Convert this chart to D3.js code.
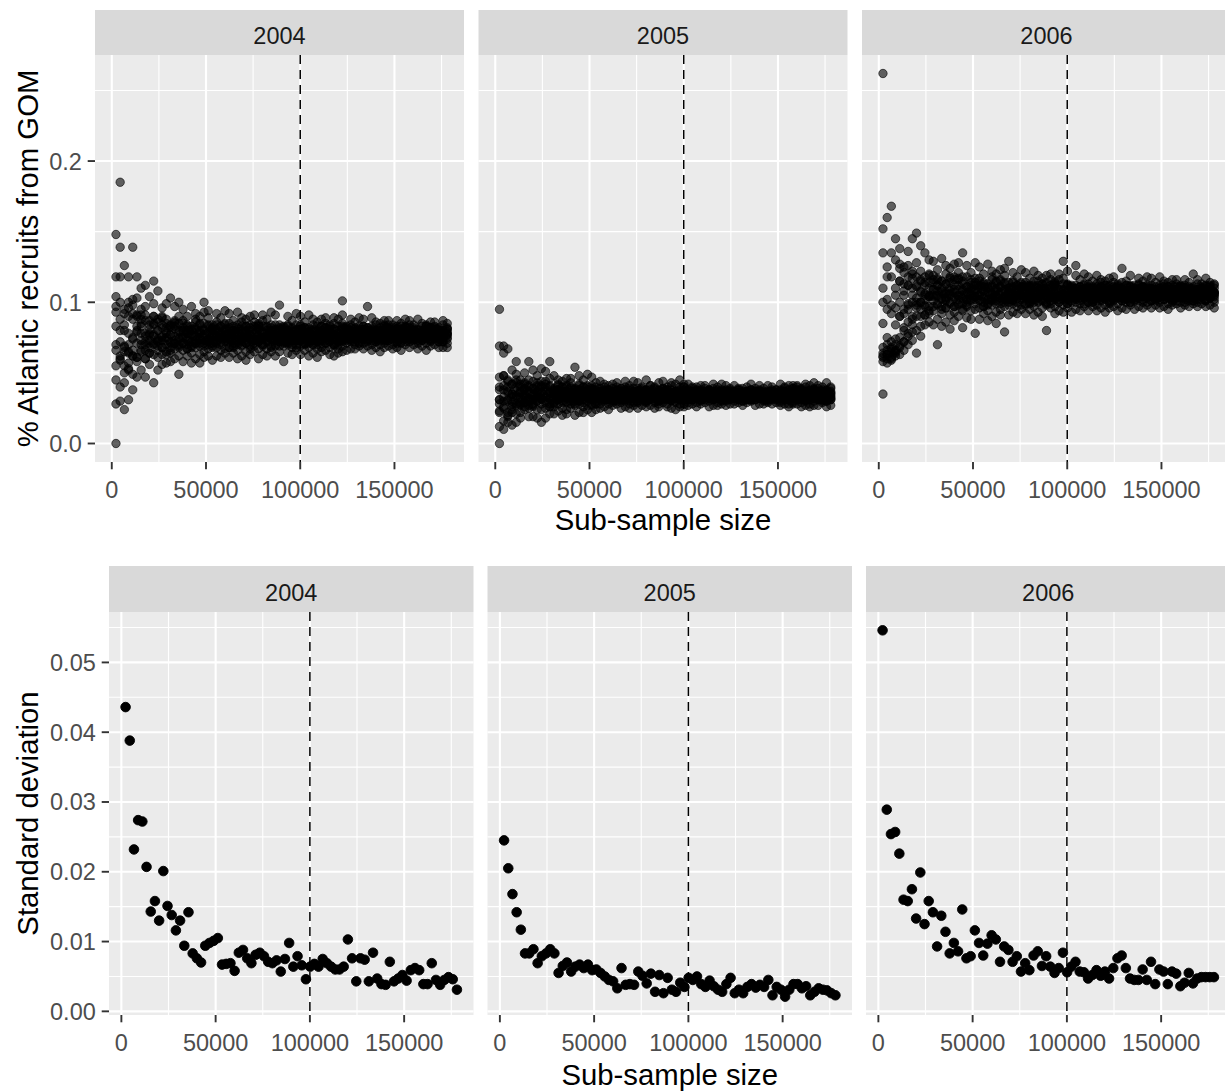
<!DOCTYPE html>
<html>
<head>
<meta charset="utf-8">
<script src="https://cdn.jsdelivr.net/npm/d3@7"></script>
<style>
  html, body { margin: 0; padding: 0; background: #fff; }
  svg { display: block; font-family: "Liberation Sans", Arial, Helvetica, sans-serif; }
</style>
</head>
<body>
<svg id="chart" width="1225" height="1091"></svg>
<script>
// ---------------- data ----------------
const years = ["2004", "2005", "2006"];

// sub-sample sizes used for the bootstrap draws
const sampleSizes = [
  2225, 4450, 6675, 8900, 11125, 13350, 15575, 17800, 20025, 22250,
  24475, 26700, 28925, 31150, 33375, 35600, 37825, 40050, 42275, 44500,
  46725, 48950, 51175, 53400, 55625, 57850, 60075, 62300, 64525, 66750,
  68975, 71200, 73425, 75650, 77875, 80100, 82325, 84550, 86775, 89000,
  91225, 93450, 95675, 97900, 100125, 102350, 104575, 106800, 109025, 111250,
  113475, 115700, 117925, 120150, 122375, 124600, 126825, 129050, 131275, 133500,
  135725, 137950, 140175, 142400, 144625, 146850, 149075, 151300, 153525, 155750,
  157975, 160200, 162425, 164650, 166875, 169100, 171325, 173550, 175775, 178000
];
// the upper row's size axis also carries the empty size-0 draw
const emptyDrawSize = 0;

// proportion of Atlantic recruits from GOM, per mille; first batch of 8 draws per size
const gom2004 = [
  [0,148,118,104,93,66,45,28],[185,139,80,62,59,118,40,30],[126,69,92,84,65,55,24,43],[118,64,57,100,70,96,52,31],
  [139,88,66,62,98,74,49,38],[118,83,90,61,79,58,47,103],[95,78,85,66,70,110,52,88],[112,72,60,76,66,97,47,91],
  [104,81,68,73,64,56,78,87],[115,99,43,84,71,63,77,90],[108,72,86,80,69,61,52,74],[96,90,63,76,68,84,56,73],
  [99,79,82,75,70,63,57,88],[103,82,84,77,71,64,58,68],[97,73,81,67,71,86,60,85],[100,90,70,75,69,62,49,80],
  [58,66,71,75,79,82,87,95],[84,62,78,90,70,74,80,67],[72,97,64,77,83,69,57,80],[88,73,60,81,68,92,76,71],
  [63,80,85,57,78,71,90,75],[77,69,93,65,80,73,61,100],[70,89,74,84,62,94,72,79],[80,59,78,71,84,68,82,75],
  [68,76,92,73,62,80,86,71],[89,66,75,79,83,61,72,77],[74,81,64,85,73,77,94,67],[61,68,72,75,78,81,85,92],
  [83,64,77,87,71,74,80,68],[73,93,66,77,82,70,60,79],[86,74,62,80,69,89,76,72],[65,79,83,59,77,71,88,75],
  [77,70,90,67,80,74,63,84],[71,86,74,83,65,91,73,78],[81,60,77,72,85,67,83,74],[69,75,91,74,63,79,87,70],
  [88,67,76,78,82,62,73,76],[75,80,65,84,72,78,93,68],[62,69,73,76,77,80,84,91],[82,65,76,98,72,75,79,69],
  [80,58,78,72,83,69,81,75],[70,76,90,73,64,80,84,71],[87,68,75,79,82,63,73,77],[75,81,66,84,73,77,92,68],
  [63,69,73,75,78,81,84,90],[82,66,77,86,71,75,79,70],[73,91,68,77,81,71,62,79],[84,74,64,80,70,88,76,73],
  [67,79,83,61,77,72,86,75],[77,71,88,68,79,74,65,83],[71,85,75,82,66,89,73,78],[81,63,77,73,84,68,80,76],
  [69,77,89,74,62,81,85,70],[88,67,76,78,83,64,72,76],[74,82,65,85,72,101,91,69],[80,66,79,74,83,71,81,77],
  [72,77,88,75,67,80,84,73],[86,70,77,79,82,67,74,78],[76,81,69,83,75,78,89,71],[67,71,74,77,79,81,83,88],
  [82,69,78,97,73,76,80,72],[75,89,70,78,81,73,66,79],[84,75,68,80,72,86,77,74],[70,79,82,65,78,74,85,77],
  [78,73,87,71,80,75,68,83],[73,84,76,82,69,87,75,79],[81,67,78,75,84,70,80,76],[71,78,87,74,68,81,83,72],
  [85,71,76,80,83,66,75,77],[77,80,70,82,74,79,88,72],[68,72,75,76,78,80,84,87],[81,70,77,84,74,77,79,73],
  [76,88,71,77,80,74,67,78],[83,76,69,79,73,85,78,75],[71,78,83,66,77,75,84,76],[77,74,86,72,81,76,69,82],
  [74,83,77,81,70,86,76,78],[80,68,79,74,82,72,81,77],[72,76,87,75,68,79,84,74],[85,71,78,79,81,68,75,77]
];
const gom2005 = [
  [95,0,69,22,40,31,28,12],[69,38,48,25,30,64,16,10],[67,31,44,36,19,22,15,40],[52,26,42,35,30,24,33,13],
  [58,33,40,28,21,45,15,37],[40,45,29,33,28,22,18,36],[50,34,38,26,29,24,42,35],[58,30,37,32,27,45,19,40],
  [26,34,52,31,19,39,44,28],[48,24,33,37,41,18,30,36],[32,40,15,44,31,36,53,24],[18,25,30,33,36,40,44,51],
  [41,21,36,46,28,32,58,26],[32,48,26,35,39,29,21,37],[42,32,23,38,28,45,34,31],[25,37,40,20,35,30,44,33],
  [35,29,46,21,37,32,24,41],[30,43,33,40,25,46,32,36],[38,20,36,30,54,27,39,33],[28,34,48,32,22,38,42,30],
  [45,26,33,37,40,22,31,35],[33,38,24,41,32,35,49,27],[22,27,31,33,36,38,41,47],[40,24,35,43,30,33,37,28],
  [32,44,28,34,37,31,25,36],[40,33,26,37,30,42,34,32],[28,36,38,24,35,31,41,34],[34,31,42,29,36,33,27,39],
  [31,40,33,38,28,43,32,35],[37,25,35,31,39,29,37,34],[30,34,44,32,26,37,40,31],[41,28,34,36,38,25,32,35],
  [33,37,27,39,32,35,44,29],[25,29,32,34,35,37,39,43],[38,27,35,40,31,33,36,30],[33,45,29,35,38,30,26,36],
  [41,34,27,36,31,41,33,32],[29,35,39,25,34,32,40,35],[35,30,43,28,37,34,26,38],[32,39,34,37,29,44,31,36],
  [36,26,34,32,40,28,38,33],[31,35,43,33,25,36,41,30],[42,29,33,37,37,24,33,34],[32,38,26,40,31,36,45,28],
  [26,28,33,34,36,36,40,42],[33,42,29,34,37,31,27,35],[39,33,28,36,31,40,34,32],[29,35,37,26,35,32,40,34],
  [34,31,41,30,36,33,28,38],[32,39,33,37,29,41,33,35],[36,26,35,32,38,30,37,34],[31,34,42,33,27,36,39,32],
  [40,29,34,35,37,27,32,35],[33,37,28,38,33,35,42,30],[27,30,32,34,35,37,38,41],[37,28,35,39,32,33,36,31],
  [34,41,30,35,36,32,28,34],[38,34,29,35,32,39,33,31],[30,36,36,27,34,33,39,35],[35,32,40,31,37,34,29,37],
  [31,38,34,36,30,42,32,34],[37,27,34,33,39,31,36,35],[32,35,41,32,28,37,38,33],[39,30,35,34,36,28,33,36],
  [34,36,29,37,32,34,41,31],[28,31,33,35,34,36,37,40],[36,29,34,38,33,34,35,32],[33,42,29,35,37,30,27,36],
  [40,32,28,37,31,39,35,33],[28,34,38,26,36,31,41,33],[35,30,41,29,37,32,28,39],[31,40,32,38,28,41,34,36],
  [37,26,36,31,39,29,38,33],[30,35,42,32,27,37,40,31],[41,28,35,34,38,26,33,36],[32,38,27,39,34,34,43,30],
  [27,31,31,35,36,36,39,41],[38,29,34,40,31,34,37,30],[32,43,30,33,38,31,26,35],[39,33,27,37,32,40,35,31]
];
const gom2006 = [
  [262,35,152,58,100,85,64,61],[160,63,118,95,75,66,60,57],[168,135,68,92,72,65,61,59],[145,110,65,96,84,70,64,62],
  [138,124,90,100,115,75,68,63],[105,125,113,82,92,80,72,66],[136,98,112,118,95,86,76,70],[145,90,117,105,120,88,79,73],
  [149,128,100,112,98,90,80,64],[140,108,116,95,100,122,83,76],[135,97,114,106,118,91,84,102],[130,110,94,105,120,92,86,104],
  [84,94,101,105,109,114,119,129],[116,88,108,123,98,104,112,70],[102,131,92,107,115,97,83,110],[120,103,86,113,96,126,106,101],
  [91,110,117,81,108,99,124,105],[107,97,127,93,112,103,87,118],[98,121,104,116,90,128,102,109],[113,82,109,99,118,94,135,105],
  [97,106,126,102,89,111,118,100],[121,94,105,110,114,88,102,108],[104,112,78,117,102,108,128,95],[88,96,102,105,109,112,117,125],
  [114,92,108,120,100,104,111,97],[102,127,94,107,113,99,87,110],[118,103,90,111,98,122,106,102],[93,110,115,85,108,101,120,105],
  [107,99,123,95,111,103,91,116],[100,119,104,114,79,124,102,109],[110,91,108,102,114,98,129,105],[99,106,121,103,93,110,115,101],
  [118,97,105,109,112,92,103,107],[105,111,95,114,103,107,123,98],[92,98,103,105,108,111,114,121],[112,95,107,117,101,105,110,99],
  [103,122,97,107,112,100,91,109],[115,104,93,110,100,119,106,103],[96,109,113,90,107,102,117,105],[107,100,119,98,110,104,80,114],
  [101,116,105,112,96,120,103,108],[111,92,107,103,115,97,113,104],[100,105,120,104,94,109,116,102],[117,98,106,108,129,93,104,106],
  [104,112,96,113,102,108,122,99],[110,93,108,103,112,100,111,105],[100,106,119,104,95,110,126,102],[116,99,105,108,111,94,103,107],
  [105,110,97,113,104,107,120,99],[94,100,103,105,108,110,113,118],[111,97,107,115,102,105,109,100],[104,119,98,107,111,101,94,108],
  [114,104,96,110,101,116,106,103],[98,108,112,93,107,103,115,105],[107,101,117,99,109,104,96,112],[102,114,105,111,97,118,104,108],
  [109,94,107,104,113,99,110,106],[101,105,124,103,96,109,114,103],[115,100,106,107,112,95,102,108],[104,111,98,112,103,108,119,100],
  [109,95,108,103,112,101,110,106],[101,106,117,104,97,109,113,103],[115,100,106,108,111,96,104,107],[105,110,98,112,104,107,118,100],
  [96,101,104,106,108,110,112,117],[111,98,107,114,103,105,109,101],[104,118,100,107,110,102,96,108],[113,105,97,109,102,115,106,104],
  [99,108,111,95,107,103,114,106],[107,102,116,100,109,105,98,112],[103,113,105,111,99,116,104,108],[110,96,107,104,111,100,109,105],
  [100,107,116,103,98,110,112,104],[114,101,105,109,110,97,105,106],[106,109,99,111,103,108,120,101],[97,100,105,105,109,109,113,116],
  [110,99,106,113,104,104,110,102],[105,117,101,106,111,101,97,107],[112,106,98,108,103,114,107,103],[100,107,112,96,106,104,113,107]
];

// second batch of 4 draws per size, per mille
const gom2004b = [
  [55,83,70,97],[88,60,100,72],[68,95,50,80],[78,53,90,65],[92,75,62,102],[61,80,71,91],[83,65,91,73],[70,87,60,78],
  [77,64,84,71],[85,76,70,90],[66,80,73,88],[82,68,89,75],[73,85,65,78],[77,66,83,72],[83,76,71,87],[68,79,74,85],
  [80,71,85,75],[73,83,67,78],[77,68,81,72],[82,76,71,86],[69,79,74,84],[81,71,85,75],[73,83,67,78],[77,69,81,73],
  [81,76,72,84],[70,78,75,83],[80,72,84,75],[74,82,68,78],[77,69,80,73],[81,76,72,84],[70,78,74,83],[80,71,83,75],
  [74,82,69,77],[77,69,81,73],[81,76,72,84],[70,78,75,83],[80,72,83,75],[74,82,69,78],[77,70,81,73],[81,76,72,84],
  [71,78,75,82],[79,72,83,75],[74,81,70,77],[77,70,80,73],[81,76,73,83],[71,78,75,82],[79,72,82,75],[74,81,70,77],
  [77,70,80,73],[80,76,73,83],[71,78,75,82],[79,72,83,75],[74,81,70,77],[77,70,80,73],[81,76,73,83],[73,79,76,82],
  [80,74,82,76],[75,81,72,78],[78,72,80,75],[81,77,74,83],[74,79,77,82],[80,75,83,76],[75,80,72,79],[78,73,80,76],
  [81,77,74,84],[73,78,76,81],[79,74,82,77],[76,81,72,78],[78,72,81,75],[82,77,74,83],[74,79,76,82],[80,74,82,76],
  [75,81,73,78],[78,73,80,75],[81,77,74,83],[73,79,77,82],[80,75,82,76],[75,80,72,78],[78,72,80,76],[81,77,74,82]
];
const gom2005b = [
  [23,38,31,47],[41,26,48,33],[30,45,20,37],[35,22,42,28],[43,34,27,49],[27,37,32,42],[39,29,43,33],[31,41,25,36],
  [35,27,39,31],[40,34,30,43],[28,36,32,41],[38,29,42,33],[32,40,26,36],[35,28,38,32],[38,34,31,41],[29,36,33,40],
  [37,30,40,33],[32,39,28,35],[35,28,38,32],[38,34,31,41],[29,36,33,40],[37,30,40,33],[32,39,28,35],[35,28,38,32],
  [37,34,32,39],[31,35,33,38],[36,31,38,34],[33,37,30,35],[34,30,37,32],[37,34,31,39],[31,36,33,38],[36,31,39,34],
  [33,37,30,36],[35,30,37,32],[37,33,32,39],[30,35,33,38],[36,32,38,34],[33,38,30,35],[34,30,36,32],[38,34,32,39],
  [31,35,34,38],[36,31,38,33],[32,37,30,35],[34,31,37,32],[37,34,31,40],[36,34,32,38],[31,35,33,37],[36,32,38,34],
  [33,37,31,35],[34,31,36,33],[37,34,32,38],[31,35,34,37],[35,32,38,34],[33,36,31,35],[34,31,37,33],[36,33,32,38],
  [32,35,33,37],[36,31,38,34],[33,37,30,35],[35,31,36,33],[36,34,31,38],[31,36,33,37],[36,32,37,34],[32,37,31,35],
  [34,30,36,33],[37,34,32,38],[31,35,33,38],[35,32,38,34],[33,37,31,36],[34,31,36,32],[36,34,32,39],[31,35,34,37],
  [36,32,38,34],[33,36,31,35],[34,31,37,33],[36,33,32,38],[32,35,33,37],[36,31,37,34],[33,37,30,35],[35,31,36,33]
];
const gom2006b = [
  [62,68,110,135],[63,70,102,125],[60,67,98,118],[66,74,105,130],[69,90,115,127],[72,95,108,121],[78,99,112,126],[84,100,110,122],
  [111,96,118,103],[100,115,90,107],[105,91,112,98],[114,104,97,119],[97,109,104,116],[112,99,117,105],[103,115,95,108],[107,96,113,102],
  [114,106,100,118],[97,109,104,116],[112,99,117,105],[103,115,95,108],[107,98,111,102],[112,106,101,116],[99,109,104,114],[111,101,115,105],
  [103,113,97,108],[107,98,111,102],[112,106,101,116],[99,109,104,114],[111,101,115,105],[103,113,97,108],[107,100,110,103],[111,106,102,114],
  [100,108,105,112],[110,102,113,105],[104,112,99,107],[108,100,111,103],[111,105,102,115],[101,108,104,112],[110,101,113,106],[104,113,99,107],
  [107,99,110,104],[112,106,102,114],[100,109,105,112],[109,102,113,105],[103,112,99,108],[107,101,109,104],[110,106,103,112],[101,108,105,111],
  [109,103,112,105],[104,111,100,107],[107,100,110,104],[110,105,103,113],[102,108,105,111],[109,102,112,106],[104,111,100,108],[106,101,109,103],
  [111,106,103,112],[101,109,105,110],[108,103,112,105],[105,111,100,107],[106,102,109,104],[110,106,104,112],[102,108,105,111],[109,103,111,106],
  [105,110,101,107],[107,102,109,104],[110,105,104,112],[102,108,106,111],[109,103,111,105],[104,110,101,107],[106,101,109,104],[111,106,103,112],
  [102,109,105,110],[108,103,111,106],[105,110,101,108],[106,102,108,104],[110,106,104,111],[102,108,105,112],[109,104,111,106],[105,110,102,107]
];

// standard deviation across draws, per mille
const sd2004 = [
  43.6,38.8,23.2,27.4,27.2,20.7,14.3,15.8,13.0,20.1, 15.1,13.8,11.6,13.0,9.4,14.2,8.3,7.6,7.0,9.4,
  9.8,10.1,10.5,6.7,6.8,6.9,5.8,8.4,8.8,7.6, 6.9,8.1,8.4,7.9,7.1,6.9,7.3,5.7,7.5,9.8,
  6.4,7.9,6.6,4.6,6.4,6.8,6.4,7.5,6.9,6.4, 6.0,6.0,6.4,10.3,7.6,4.3,7.6,7.4,4.3,8.4,
  4.7,3.9,3.8,7.1,4.3,4.7,5.2,4.4,5.9,6.2, 5.9,3.9,3.9,6.9,4.5,3.8,4.5,4.9,4.6,3.1
];
const sd2005 = [
  24.5,20.5,16.8,14.2,11.7,8.3,8.3,8.9,6.9,7.9, 8.3,8.9,8.3,5.5,6.5,7.0,5.7,6.4,6.7,6.2,
  6.7,5.9,6.0,5.5,5.0,4.5,4.3,3.3,6.2,3.8, 3.9,3.8,5.7,5.1,4.0,5.4,2.8,5.2,2.6,4.8,
  3.1,2.8,4.1,3.5,4.8,4.5,5.0,3.9,3.5,4.4, 3.6,3.1,2.8,3.9,4.8,2.6,3.1,2.6,3.5,3.9,
  3.4,3.8,3.5,4.5,2.3,3.5,3.1,2.1,3.1,3.9, 3.9,3.3,3.6,2.3,2.8,3.3,3.1,3.0,2.6,2.3
];
const sd2006 = [
  54.6,28.9,25.4,25.7,22.6,16.0,15.8,17.5,13.3,19.9, 12.5,15.8,14.2,9.3,13.7,11.4,8.3,9.8,8.6,14.6,
  7.6,7.9,11.6,9.8,8.0,9.7,10.9,10.3,7.1,9.3, 8.8,7.1,7.9,5.7,6.9,5.9,8.0,8.6,6.5,7.9,
  6.4,5.5,6.2,8.4,5.6,6.4,7.1,5.7,5.6,4.7, 5.2,5.9,5.1,5.7,4.7,6.2,7.6,8.0,6.2,4.7,
  4.5,4.5,6.0,4.5,7.1,3.9,6.0,5.7,3.9,5.7, 5.4,3.6,4.1,5.5,4.0,4.7,4.9,4.9,4.9,4.9
];

// axis ticks
const xTicks = [0, 50000, 100000, 150000];
const xMinorTicks = [25000, 75000, 125000, 175000];
const yTicksTop = [0, 0.1, 0.2];
const yMinorTop = [0.05, 0.15, 0.25];
const yTicksBottom = [0, 0.01, 0.02, 0.03, 0.04, 0.05];
const yMinorBottom = [0.005, 0.015, 0.025, 0.035, 0.045, 0.055];
const referenceSize = 100000;

const xTitle = "Sub-sample size";
const yTitleTop = "% Atlantic recruits from GOM";
const yTitleBottom = "Standard deviation";

// ---------------- drawing ----------------
const W = 1225, H = 1091;
const svg = d3.select("#chart");
svg.append("rect").attr("width", W).attr("height", H).attr("fill", "#ffffff");

const defs = svg.append("defs");

function padded(ext) {
  const r = ext[1] - ext[0];
  return [ext[0] - 0.05 * r, ext[1] + 0.05 * r];
}

const drawsByYear = {
  "2004": [gom2004, gom2004b],
  "2005": [gom2005, gom2005b],
  "2006": [gom2006, gom2006b]
};
const sdByYear = { "2004": sd2004, "2005": sd2005, "2006": sd2006 };

const topPoints = years.map(yr => {
  const [a, b] = drawsByYear[yr];
  return a.flatMap((row, i) => row.concat(b[i]).map(v => ({ x: sampleSizes[i], y: v / 1000 })));
});
const sdPoints = years.map(yr =>
  sdByYear[yr].map((v, i) => ({ x: sampleSizes[i], y: v / 1000 })));

const topX = padded([emptyDrawSize, d3.max(sampleSizes)]);
const topY = padded(d3.extent(topPoints.flat(), d => d.y));
const botX = padded(d3.extent(sampleSizes));
const botY = padded(d3.extent(sdPoints.flat(), d => d.y));

const TICK_FONT = 23.5, TITLE_FONT = 29.3;
const TICK_LEN = 7.3, TICK_GAP = 5.9;

function drawRow(c) {
  const y = d3.scaleLinear().domain(c.yDom).range([c.bottom, c.top]);
  c.lefts.forEach((left, k) => {
    const x = d3.scaleLinear().domain(c.xDom).range([left, left + c.width]);
    const g = svg.append("g");

    // strip
    g.append("rect")
      .attr("x", left).attr("y", c.stripTop)
      .attr("width", c.width).attr("height", c.top - c.stripTop)
      .attr("fill", "#D9D9D9");
    g.append("text")
      .attr("x", left + c.width / 2).attr("y", (c.stripTop + c.top) / 2)
      .attr("dy", "0.5em").attr("text-anchor", "middle")
      .attr("font-size", TICK_FONT).attr("fill", "#1A1A1A")
      .text(years[k]);

    // panel background
    g.append("rect")
      .attr("x", left).attr("y", c.top)
      .attr("width", c.width).attr("height", c.bottom - c.top)
      .attr("fill", "#EBEBEB");

    // grid
    const grid = g.append("g").attr("stroke", "#ffffff");
    grid.selectAll(".xm").data(xMinorTicks).join("line")
      .attr("x1", d => x(d)).attr("x2", d => x(d))
      .attr("y1", c.top).attr("y2", c.bottom).attr("stroke-width", 1.1);
    grid.selectAll(".ym").data(c.yMinor).join("line")
      .attr("x1", left).attr("x2", left + c.width)
      .attr("y1", d => y(d)).attr("y2", d => y(d)).attr("stroke-width", 1.1);
    grid.selectAll(".xM").data(xTicks).join("line")
      .attr("x1", d => x(d)).attr("x2", d => x(d))
      .attr("y1", c.top).attr("y2", c.bottom).attr("stroke-width", 2.1);
    grid.selectAll(".yM").data(c.yTicks).join("line")
      .attr("x1", left).attr("x2", left + c.width)
      .attr("y1", d => y(d)).attr("y2", d => y(d)).attr("stroke-width", 2.1);

    // points, clipped to the panel
    const clipId = `clip-${c.name}-${k}`;
    defs.append("clipPath").attr("id", clipId).append("rect")
      .attr("x", left).attr("y", c.top)
      .attr("width", c.width).attr("height", c.bottom - c.top);
    const pg = g.append("g").attr("clip-path", `url(#${clipId})`);
    pg.selectAll("circle").data(c.points[k]).join("circle")
      .attr("cx", d => x(d.x)).attr("cy", d => y(d.y))
      .attr("r", c.r)
      .attr("fill", "#000").attr("fill-opacity", c.alpha)
      .attr("stroke", "#000").attr("stroke-opacity", c.alpha)
      .attr("stroke-width", c.strokeW);

    // reference sub-sample size
    pg.append("line")
      .attr("x1", x(referenceSize)).attr("x2", x(referenceSize))
      .attr("y1", c.top).attr("y2", c.bottom)
      .attr("stroke", "#000").attr("stroke-width", 1.5)
      .attr("stroke-dasharray", "9,6");

    // x axis
    const xa = g.append("g");
    xa.selectAll("line").data(xTicks).join("line")
      .attr("x1", d => x(d)).attr("x2", d => x(d))
      .attr("y1", c.bottom).attr("y2", c.bottom + TICK_LEN)
      .attr("stroke", "#333333").attr("stroke-width", 1.9);
    xa.selectAll("text").data(xTicks).join("text")
      .attr("x", d => x(d)).attr("y", c.xLabelBase)
      .attr("text-anchor", "middle")
      .attr("font-size", TICK_FONT).attr("fill", "#4D4D4D")
      .text(d => d3.format("d")(d));

    // y axis on the first panel only
    if (k === 0) {
      const ya = g.append("g");
      ya.selectAll("line").data(c.yTicks).join("line")
        .attr("x1", left - TICK_LEN).attr("x2", left)
        .attr("y1", d => y(d)).attr("y2", d => y(d))
        .attr("stroke", "#333333").attr("stroke-width", 1.9);
      ya.selectAll("text").data(c.yTicks).join("text")
        .attr("x", left - TICK_LEN - TICK_GAP).attr("y", d => y(d))
        .attr("dy", "0.36em").attr("text-anchor", "end")
        .attr("font-size", TICK_FONT).attr("fill", "#4D4D4D")
        .text(d => d3.format(c.yFmt)(d));
    }
  });

  const l = c.lefts[0], r = c.lefts[c.lefts.length - 1] + c.width;
  svg.append("text")
    .attr("x", (l + r) / 2).attr("y", c.xTitleBase)
    .attr("text-anchor", "middle")
    .attr("font-size", TITLE_FONT).attr("fill", "#000")
    .text(xTitle);
  svg.append("text")
    .attr("transform", `translate(${c.yTitleX},${(c.top + c.bottom) / 2}) rotate(-90)`)
    .attr("text-anchor", "middle")
    .attr("font-size", TITLE_FONT).attr("fill", "#000")
    .text(c.yTitle);
}

drawRow({
  name: "top", lefts: [95, 478.5, 862], width: 369,
  stripTop: 10, top: 55, bottom: 462,
  xDom: topX, yDom: topY,
  yTicks: yTicksTop, yMinor: yMinorTop, yFmt: ".1f",
  points: topPoints, r: 4.2, strokeW: 1.0, alpha: 0.6,
  xLabelBase: 498, xTitleBase: 530, yTitleX: 37.5, yTitle: yTitleTop
});

drawRow({
  name: "bottom", lefts: [109, 487.5, 866], width: 364.5,
  stripTop: 566, top: 612, bottom: 1015,
  xDom: botX, yDom: botY,
  yTicks: yTicksBottom, yMinor: yMinorBottom, yFmt: ".2f",
  points: sdPoints, r: 4.8, strokeW: 0.9, alpha: 1,
  xLabelBase: 1051, xTitleBase: 1085, yTitleX: 37.5, yTitle: yTitleBottom
});
</script>
</body>
</html>
